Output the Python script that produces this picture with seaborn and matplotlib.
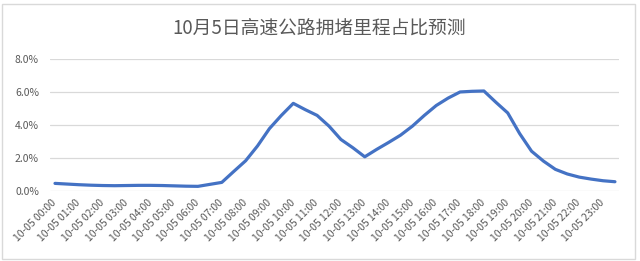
import matplotlib
matplotlib.use("Agg")
import matplotlib.pyplot as plt
import seaborn as sns
import pandas as pd
from matplotlib.ticker import PercentFormatter, MultipleLocator
from matplotlib.patches import Rectangle

# ---- data (half-hour forecasts, percent) ----
times = [f"10-05 {h:02d}:{m:02d}" for h in range(24) for m in (0, 30)]
values = [0.48, 0.44, 0.40, 0.37, 0.35, 0.34, 0.35, 0.36, 0.36, 0.35,
          0.33, 0.31, 0.30, 0.42, 0.54, 1.20, 1.85, 2.75, 3.80, 4.60,
          5.33, 4.95, 4.60, 3.95, 3.14, 2.64, 2.09, 2.54, 2.96, 3.40,
          3.95, 4.60, 5.20, 5.65, 6.02, 6.06, 6.08, 5.40, 4.75, 3.50,
          2.43, 1.83, 1.33, 1.05, 0.86, 0.74, 0.64, 0.58]
tick_labels = times[::2]
title = "10月5日高速公路拥堵里程占比预测"

df = pd.DataFrame({"pos": range(len(times)), "time": times, "value": values})

sns.set_theme(style="white")
plt.rcParams["font.family"] = ["Noto Sans CJK SC", "DejaVu Sans"]

W, H = 640, 261
fig = plt.figure(figsize=(W / 100, H / 100), dpi=100)
ax = fig.add_axes([50 / W, 1 - 191.3 / H, (619 - 50) / W, (191.3 - 59.3) / H])

sns.lineplot(data=df, x="pos", y="value", ax=ax, color="#4472C4",
             linewidth=2.3, solid_capstyle="round", solid_joinstyle="round")

ax.set_ylim(0, 8)
ax.set_xlim(-0.42, 47.34)
ax.yaxis.set_major_locator(MultipleLocator(2))
ax.yaxis.set_major_formatter(PercentFormatter(xmax=100, decimals=1))
ax.set_xticks(df["pos"][::2])
ax.set_xticklabels(tick_labels, rotation=45, ha="right", va="center",
                   rotation_mode="anchor")
ax.tick_params(axis="x", length=0, pad=7, labelsize=7.5, colors="#595959")
ax.tick_params(axis="y", length=0, pad=8, labelsize=7.5, colors="#595959")
ax.grid(axis="y", color="#d9d9d9", linewidth=0.9)
ax.grid(axis="x", visible=False)
ax.set_axisbelow(True)
for s in ax.spines.values():
    s.set_visible(False)
ax.set_xlabel("")
ax.set_ylabel("")

fig.text(319 / W, 1 - 28 / H, title, ha="center", va="center",
         fontsize=13.5, color="#595959")

# chart-area border
fig.patches.append(Rectangle((2 / W, 1 - 259 / H), 633 / W, 255 / H,
                             transform=fig.transFigure, fill=False,
                             edgecolor="#d9d9d9", linewidth=1))

fig.savefig("out.png", dpi=100)
